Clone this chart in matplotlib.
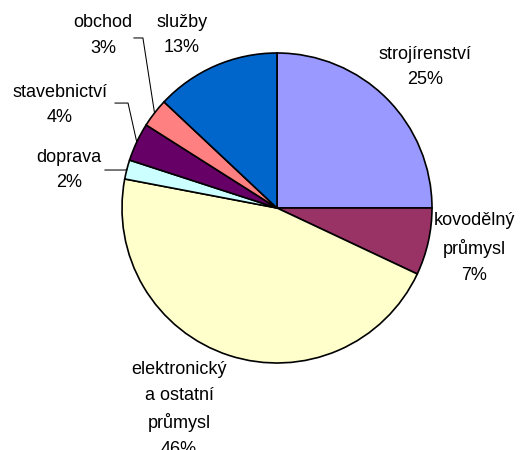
import matplotlib.pyplot as plt
import numpy as np

plt.rcParams['font.family'] = ['Liberation Sans', 'DejaVu Sans']

labels = ["strojírenství", "kovodělný\nprůmysl", "elektronický\na ostatní\nprůmysl",
          "doprava", "stavebnictví", "obchod", "služby"]
shares = [25, 7, 46, 2, 4, 3, 13]
colors = ["#9999FF", "#993366", "#FFFFCC", "#CCFFFF", "#660066", "#FF8080", "#0066CC"]

# label block centres, in units of the pie radius
label_pos = [(0.955, 0.91), (1.271, -0.258), (-0.632, -1.3), (-1.342, 0.245),
             (-1.4, 0.665), (-1.123, 1.113), (-0.613, 1.116)]
# leader lines: (start x, elbow x, y)
leader = {3: (-1.11, -0.98, 0.245), 4: (-1.045, -0.961, 0.677), 5: (-0.923, -0.865, 1.097)}

W, H = 522, 450
cx, cy, R = 277, 208, 155

fig = plt.figure(figsize=(W / 100, H / 100), dpi=100)
ax = fig.add_axes([0, 0, 1, 1])

ax.pie(shares, colors=colors, startangle=90, counterclock=False, radius=1,
       wedgeprops=dict(edgecolor='black', linewidth=1.2))

ax.set_xlim(-cx / R, (W - cx) / R)
ax.set_ylim(-(H - cy) / R, cy / R)
ax.set_aspect('equal')
ax.axis('off')

cum = np.cumsum([0] + shares)
for i, (lab, s) in enumerate(zip(labels, shares)):
    x, y = label_pos[i]
    ax.text(x, y, f"{lab}\n{s}%", ha='center', va='center', fontsize=13,
            linespacing=1.65)
    if i in leader:
        mid = np.deg2rad((cum[i] + s / 2) / 100 * 360)
        ex, ey = np.sin(mid), np.cos(mid)
        x0, x1, hy = leader[i]
        ax.plot([x0, x1, ex], [hy, hy, ey], color='black', lw=0.75)

fig.savefig('out.png', dpi=100)
